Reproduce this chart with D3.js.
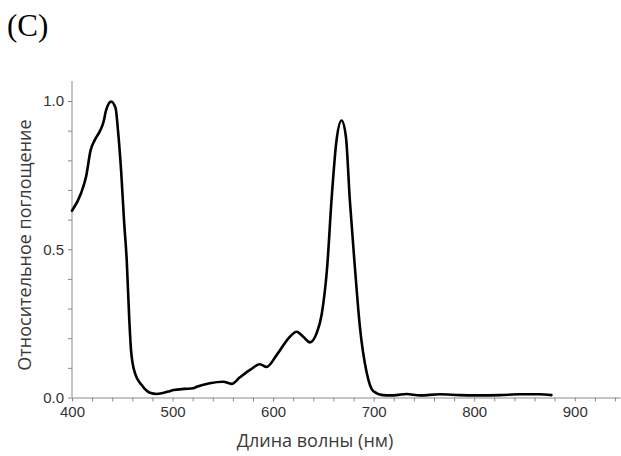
<!DOCTYPE html>
<html>
<head>
<meta charset="utf-8">
<script src="https://cdn.jsdelivr.net/npm/d3@7"></script>
<style>
  html, body { margin: 0; padding: 0; background: #fff; }
  svg { display: block; }
</style>
</head>
<body>
<svg id="chart" width="621" height="456"></svg>
<script>
// Wavelength (nm) and relative absorbance
const wavelengths = [400, 409, 414, 418.6, 422.6, 428, 431, 434, 439, 443.4, 445.7, 449, 451.7, 454.4, 457, 458.7, 462.6, 469.3, 477.5, 484.2, 495.7, 501, 512, 520.6, 524, 537, 550.4, 558.7, 567, 577, 586.9, 593.5, 603.5, 616.7, 623.4, 630, 636.6, 643.3, 648.3, 653.8, 658.1, 663.1, 668.1, 672.4, 676.3, 681.3, 686.3, 693, 699.5, 709.4, 716, 722.7, 732.7, 746, 765.8, 785.7, 802.3, 825.4, 845.3, 865.2, 876.8];
const absorbance  = [0.63, 0.689, 0.745, 0.835, 0.868, 0.900, 0.925, 0.970, 0.998, 0.975, 0.902, 0.757, 0.599, 0.464, 0.261, 0.16, 0.082, 0.042, 0.016, 0.012, 0.020, 0.025, 0.029, 0.031, 0.036, 0.048, 0.053, 0.046, 0.068, 0.093, 0.112, 0.103, 0.143, 0.205, 0.222, 0.205, 0.186, 0.217, 0.280, 0.441, 0.666, 0.868, 0.934, 0.880, 0.666, 0.441, 0.239, 0.085, 0.022, 0.008, 0.007, 0.008, 0.012, 0.007, 0.011, 0.008, 0.007, 0.008, 0.011, 0.011, 0.008];

const xTickValues = [400, 500, 600, 700, 800, 900];
const yTickValues = [0.0, 0.5, 1.0];
const panelLabel = "(C)";
const xTitle = "Длина волны (нм)";
const yTitle = "Относительное поглощение";

const svg = d3.select("#chart");
const x = d3.scaleLinear().domain([400, 945]).range([72, 620]);
const y = d3.scaleLinear().domain([0, 1]).range([397.5, 101]);

const axisColor = "#8a8a8a";
const labelColor = "#333";

// X axis
const xMinor = d3.range(400, 945, 20);
const gx = svg.append("g").attr("transform", `translate(0,${y(0)})`)
  .call(d3.axisBottom(x).tickValues(xMinor).tickSize(4).tickSizeOuter(0)
    .tickFormat(d => xTickValues.includes(d) ? d : ""));
gx.select(".domain").attr("stroke", axisColor);
gx.selectAll(".tick line").attr("stroke", axisColor);
gx.selectAll(".tick text").attr("fill", labelColor)
  .attr("font-family", "'Liberation Sans', Arial, sans-serif").attr("font-size", 15).attr("dy", "0.85em");

// Y axis
const yMinor = d3.range(0, 11).map(i => i / 10);
const gy = svg.append("g").attr("transform", `translate(${x(400)},0)`)
  .call(d3.axisLeft(y).tickValues(yMinor).tickSize(4).tickSizeOuter(0)
    .tickFormat(d => yTickValues.some(v => Math.abs(v - d) < 1e-9) ? d3.format(".1f")(d) : ""));
gy.select(".domain").attr("stroke", axisColor).attr("d", `M0,${y(0)}V81`);
gy.selectAll(".tick line").attr("stroke", axisColor);
gy.selectAll(".tick text").attr("fill", labelColor)
  .attr("font-family", "'Liberation Sans', Arial, sans-serif").attr("font-size", 15).attr("x", -8);

// Curve
const pts = wavelengths.map((w, i) => [w, absorbance[i]]);
const line = d3.line().x(d => x(d[0])).y(d => y(d[1])).curve(d3.curveMonotoneX);
svg.append("path").datum(pts).attr("d", line)
  .attr("fill", "none").attr("stroke", "#000").attr("stroke-width", 2.6)
  .attr("stroke-linejoin", "round").attr("stroke-linecap", "round");

// Titles
svg.append("text").attr("x", 315).attr("y", 447).attr("text-anchor", "middle")
  .attr("font-family", "'Open Sans', 'Noto Sans', sans-serif").attr("font-size", 18)
  .attr("fill", "#3a3a3a").text(xTitle);
svg.append("text").attr("transform", `translate(31,245) rotate(-90)`).attr("text-anchor", "middle")
  .attr("font-family", "'Open Sans', 'Noto Sans', sans-serif").attr("font-size", 18)
  .attr("fill", "#3a3a3a").text(yTitle);
svg.append("text").attr("x", 7).attr("y", 36)
  .attr("font-family", "'Liberation Serif', 'Times New Roman', serif").attr("font-size", 31)
  .attr("fill", "#000").text(panelLabel);
</script>
</body>
</html>
